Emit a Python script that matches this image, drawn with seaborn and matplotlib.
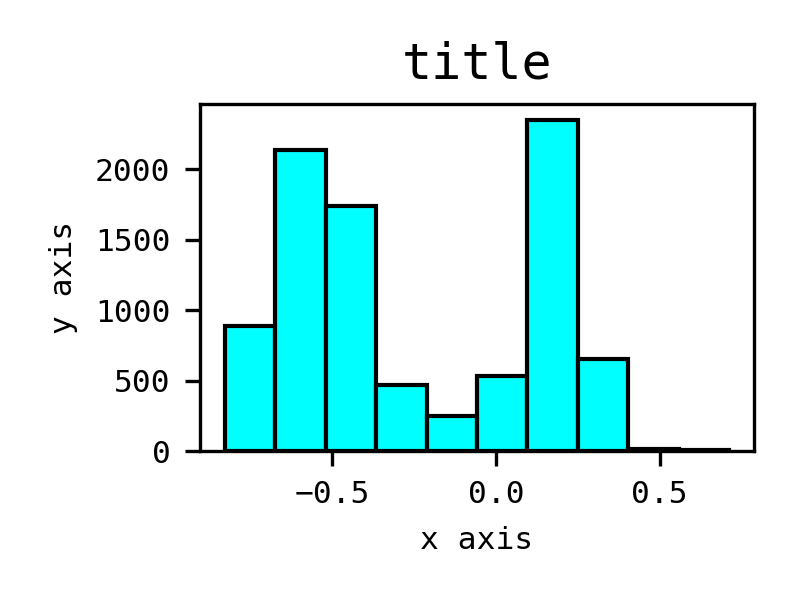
import matplotlib
matplotlib.use("Agg")
import matplotlib.pyplot as plt
import seaborn as sns
import pandas as pd

# histogram: 10 bins
bin_edges = [-0.828, -0.674, -0.520, -0.366, -0.212, -0.058, 0.096, 0.250, 0.404, 0.558, 0.712]
counts = [890, 2135, 1744, 470, 249, 534, 2349, 655, 14, 5]
title = "title"
xlabel = "x axis"
ylabel = "y axis"

centers = [(a + b) / 2 for a, b in zip(bin_edges[:-1], bin_edges[1:])]
df = pd.DataFrame({"x": centers, "n": counts})

sns.set_style("ticks")
plt.rcParams["font.family"] = ["DejaVu Sans Mono", "DejaVu Sans"]
plt.rcParams["axes.linewidth"] = 0.8
plt.rcParams["text.color"] = "black"
plt.rcParams["axes.labelcolor"] = "black"
plt.rcParams["xtick.color"] = "black"
plt.rcParams["ytick.color"] = "black"
plt.rcParams["axes.edgecolor"] = "black"

fig, ax = plt.subplots(figsize=(799 / 300, 600 / 300), dpi=300)
sns.histplot(data=df, x="x", weights="n", bins=bin_edges, color="#00ffff",
             alpha=1, edgecolor="black", linewidth=1.0, ax=ax)
ax.set_title(title, fontsize=12, color="black")
ax.set_xlabel(xlabel, fontsize=7.5)
ax.set_ylabel(ylabel, fontsize=7.5)
ax.tick_params(labelsize=7.5, width=0.8, length=3.5, color="black", labelcolor="black")
ax.set_xticks([-0.5, 0.0, 0.5])
for s in ax.spines.values():
    s.set_color("black")
    s.set_visible(True)
ax.margins(x=0.05, y=0.05)
ax.set_ylim(0, None)

fig.subplots_adjust(left=0.25, right=0.944, bottom=0.248, top=0.827)
fig.savefig("out.png", dpi=300)
